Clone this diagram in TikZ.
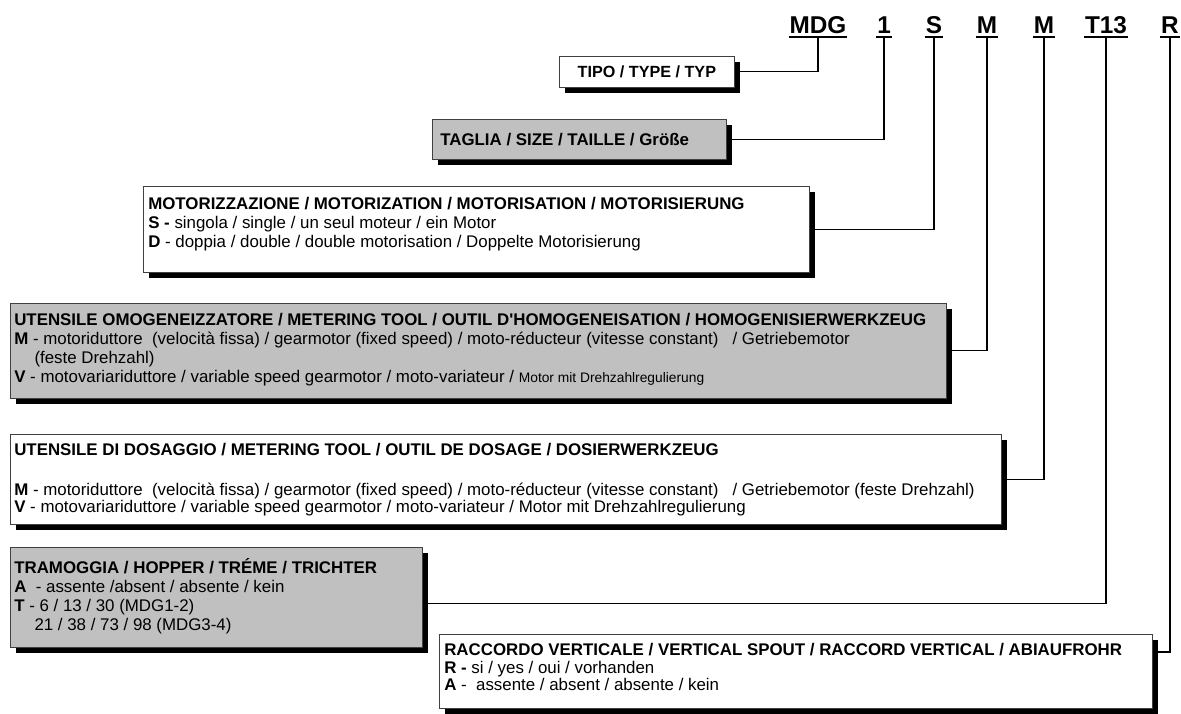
\documentclass[tikz,border=0pt]{standalone}
\usepackage{fontspec}
\setmainfont{Liberation Sans}
\usetikzlibrary{shadows}
\definecolor{panelgray}{RGB}{192,192,192}
\def\pxu{0.025cm} % one pixel of the sheet

\tikzset{
  panel/.style={draw=black!75, line width=0.5pt, anchor=north west, inner sep=0pt,
    drop shadow={shadow xshift=0.15cm, shadow yshift=-0.15cm, fill=black, opacity=1}},
  greypanel/.style={panel, fill=panelgray},
  whitepanel/.style={panel, fill=white},
  paneltext/.style={anchor=north west, align=left, inner sep=0pt,
    font=\fontsize{12}{13.5}\selectfont},
  code/.style={anchor=south, inner xsep=0.5pt, inner ysep=2pt,
    font=\bfseries\fontsize{17.3}{20}\selectfont},
  uline/.style={line width=1.6pt},
  link/.style={line width=0.8pt}
}

\begin{document}
\begin{tikzpicture}[x=\pxu, y=-\pxu]
  \useasboundingbox (0,0) rectangle (1181,714);

  % code letters on top
  \foreach \nm/\txt/\xx in {mdg/MDG/818, size/1/884, motor/S/934, homog/M/987,
                            dosing/M/1044, hopper/T13/1106, spout/R/1170} {
    \node[code] (c-\nm) at (\xx,37) {\txt};
    \draw[uline] (c-\nm.south west) -- (c-\nm.south east);
  }

  % boxes
  \node[whitepanel, minimum width=175*\pxu, minimum height=31*\pxu] (type) at (559,56) {};
  \node[greypanel, minimum width=294*\pxu, minimum height=40*\pxu] (size) at (432,119) {};
  \node[whitepanel, minimum width=666*\pxu, minimum height=86*\pxu] (motor) at (143,186) {};
  \node[greypanel, minimum width=936*\pxu, minimum height=95*\pxu] (homog) at (10,303) {};
  \node[whitepanel, minimum width=991*\pxu, minimum height=90*\pxu] (dosing) at (10,434) {};
  \node[greypanel, minimum width=412*\pxu, minimum height=100*\pxu] (hopper) at (10,547) {};
  \node[whitepanel, minimum width=713*\pxu, minimum height=74*\pxu] (spout) at (439,634) {};

  % texts of the boxes
  \node[font=\bfseries\fontsize{11.5}{13}\selectfont] (type-t) at (type.center) {TIPO / TYPE / TYP};
  \node[paneltext, anchor=west] (size-t) at ([xshift=8*\pxu]size.west)
    {\textbf{TAGLIA / SIZE / TAILLE / Größe}};
  \node[paneltext] (motor-t) at ([xshift=5*\pxu, yshift=-11*\pxu]motor.north west)
    {\textbf{MOTORIZZAZIONE / MOTORIZATION / MOTORISATION / MOTORISIERUNG}\\
     \textbf{S -} singola / single / un seul moteur / ein Motor\\
     \textbf{D} - doppia / double / double motorisation / Doppelte Motorisierung};
  \node[paneltext] (homog-t) at ([xshift=4*\pxu, yshift=-10*\pxu]homog.north west)
    {\textbf{UTENSILE OMOGENEIZZATORE / METERING TOOL / OUTIL D\textquotesingle HOMOGENEISATION / HOMOGENISIERWERKZEUG}\\
     \textbf{M} - motoriduttore\ \ (velocità fissa) / gearmotor (fixed speed) / moto-réducteur (vitesse constant)\ \ \ / Getriebemotor\\
     \hspace*{1.2em}(feste Drehzahl)\\
     \textbf{V} - motovariariduttore / variable speed gearmotor / moto-variateur / {\fontsize{9.8}{10}\selectfont Motor mit Drehzahlregulierung}};
  \node[paneltext, font=\fontsize{12}{12.2}\selectfont] (dosing-t) at ([xshift=4*\pxu, yshift=-9*\pxu]dosing.north west)
    {\textbf{UTENSILE DI DOSAGGIO / METERING TOOL / OUTIL DE DOSAGE / DOSIERWERKZEUG}\\[16pt]
     \textbf{M} - motoriduttore\ \ (velocità fissa) / gearmotor (fixed speed) / moto-réducteur (vitesse constant)\ \ \ / Getriebemotor (feste Drehzahl)\\
     \textbf{V} - motovariariduttore / variable speed gearmotor / moto-variateur / Motor mit Drehzahlregulierung};
  \node[paneltext] (hopper-t) at ([xshift=4*\pxu, yshift=-11*\pxu]hopper.north west)
    {\textbf{TRAMOGGIA / HOPPER / TRÉME / TRICHTER}\\
     \textbf{A}\ \ - assente /absent / absente / kein\\
     \textbf{T} - 6 / 13 / 30 (MDG1-2)\\
     \hspace*{1.2em}21 / 38 / 73 / 98 (MDG3-4)};
  \node[paneltext, font=\fontsize{12}{12.5}\selectfont] (spout-t) at ([xshift=5*\pxu, yshift=-9*\pxu]spout.north west)
    {\textbf{RACCORDO VERTICALE / VERTICAL SPOUT / RACCORD VERTICAL / ABIAUFROHR}\\
     \textbf{R -} si / yes / oui / vorhanden\\
     \textbf{A} -\ \ assente / absent / absente / kein};

  % connectors from boxes up to the code letters
  \draw[link] (type.east) -| (c-mdg.south);
  \draw[link] (size.east) -| (c-size.south);
  \draw[link] (motor.east) -| (c-motor.south);
  \draw[link] (homog.east) -| (c-homog.south);
  \draw[link] (dosing.east) -| (c-dosing.south);
  \draw[link] ([yshift=-6*\pxu]hopper.east) -| (c-hopper.south);
  \draw[link] ([yshift=-18*\pxu]spout.north east) -| (c-spout.south);
\end{tikzpicture}
\end{document}
